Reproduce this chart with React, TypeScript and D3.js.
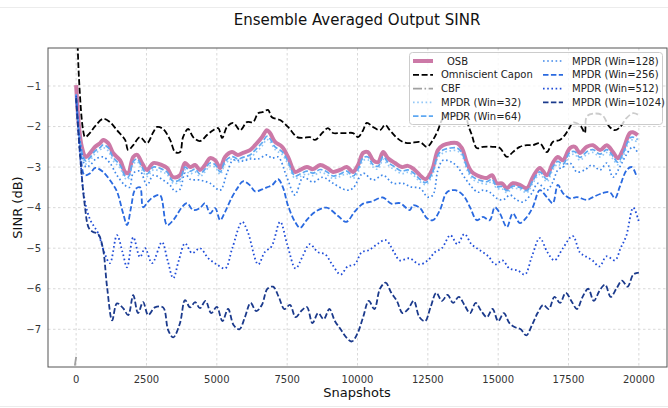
import React from "react";
import * as d3 from "d3";

type Pt = [number, number];

// Snapshot index vs. ensemble-averaged output SINR (dB)
const osb: Pt[] = [[0,-0.98],[200,-2.5],[350,-2.75],[500,-2.65],[675,-2.5],[850,-2.41],[960,-2.33],[1140,-2.41],[1310,-2.65],[1560,-2.83],[1740,-3.12],[1850,-3.15],[2030,-2.75],[2170,-2.7],[2340,-2.9],[2520,-3.07],[2740,-2.9],[3050,-2.95],[3230,-3.02],[3450,-3.25],[3690,-3.2],[3870,-2.9],[4050,-3.0],[4230,-2.95],[4400,-3.07],[4580,-2.95],[4760,-2.78],[4940,-2.83],[5120,-3.02],[5290,-2.75],[5540,-2.63],[5750,-2.7],[5930,-2.65],[6180,-2.58],[6360,-2.46],[6610,-2.26],[6780,-2.09],[6890,-2.16],[7070,-2.38],[7320,-2.5],[7530,-2.75],[7780,-3.12],[7960,-3.07],[8200,-3.0],[8420,-3.05],[8670,-2.95],[8920,-3.02],[9130,-3.12],[9380,-3.07],[9620,-3.0],[9840,-3.12],[10020,-2.95],[10200,-2.65],[10370,-2.63],[10550,-2.83],[10730,-2.88],[10910,-2.63],[11080,-2.78],[11330,-2.9],[11580,-3.0],[11790,-2.97],[12000,-3.05],[12220,-3.2],[12420,-3.3],[12650,-3.07],[12860,-2.58],[13040,-2.46],[13290,-2.41],[13540,-2.41],[13710,-2.53],[13890,-2.9],[14060,-3.12],[14240,-3.2],[14420,-3.25],[14600,-3.27],[14780,-3.2],[14950,-3.4],[15130,-3.4],[15310,-3.52],[15520,-3.4],[15770,-3.44],[16020,-3.52],[16230,-3.25],[16480,-3.02],[16730,-3.2],[16940,-2.9],[17120,-2.75],[17300,-2.83],[17550,-2.53],[17730,-2.5],[17900,-2.65],[18150,-2.5],[18370,-2.46],[18620,-2.58],[18860,-2.46],[19080,-2.63],[19250,-2.78],[19430,-2.58],[19680,-2.16],[19790,-2.14],[19960,-2.21]];

const capon: Pt[] = [[0,1.5],[100,-0.8],[250,-2.1],[320,-2.26],[500,-2.15],[675,-1.99],[960,-1.81],[1200,-1.89],[1450,-2.09],[1740,-2.33],[1850,-2.58],[2030,-2.46],[2270,-2.26],[2520,-2.41],[2740,-2.14],[2880,-2.01],[3090,-2.06],[3340,-2.33],[3520,-2.63],[3690,-2.63],[3800,-2.26],[3980,-2.06],[4160,-2.26],[4400,-2.36],[4650,-2.21],[4870,-2.09],[5050,-2.04],[5190,-2.28],[5360,-2.01],[5580,-1.91],[5830,-2.09],[6070,-1.89],[6290,-1.89],[6470,-1.67],[6650,-1.64],[6820,-1.59],[6960,-1.77],[7250,-1.84],[7530,-2.01],[7850,-2.26],[8070,-2.28],[8310,-2.26],[8490,-2.33],[8770,-2.14],[8950,-2.04],[9130,-2.16],[9380,-2.16],[9620,-2.16],[9840,-2.16],[10020,-2.26],[10200,-2.09],[10330,-1.91],[10550,-2.01],[10800,-2.09],[10980,-1.96],[11150,-2.09],[11400,-2.28],[11620,-2.38],[11860,-2.41],[12220,-2.38],[12470,-2.5],[12680,-2.33],[12860,-2.09],[13000,-1.84],[13200,-1.69],[13450,-1.74],[13700,-1.72],[13850,-1.77],[13950,-2.0],[14060,-2.2],[14240,-2.53],[14460,-2.5],[14810,-2.5],[15060,-2.53],[15310,-2.75],[15520,-2.63],[15770,-2.5],[16020,-2.46],[16230,-2.46],[16480,-2.41],[16730,-2.63],[16940,-2.38],[17190,-2.33],[17370,-2.21],[17550,-2.01],[17650,-1.9],[17800,-1.92],[17950,-2.0],[18080,-2.16],[18150,-1.75],[18400,-1.68],[18700,-1.72],[18950,-2.0],[19150,-2.09],[19350,-2.0],[19550,-1.8],[19800,-1.67],[20000,-1.72]];

const cbf: Pt[] = [[0,-7.68],[50,-40],[20000,-40]];

const mpdr32: Pt[] = [[0,-1.28],[200,-2.7],[350,-2.92],[500,-2.83],[675,-2.67],[850,-2.58],[960,-2.52],[1140,-2.6],[1310,-2.84],[1560,-3.02],[1740,-3.28],[1850,-3.3],[2030,-2.93],[2170,-2.87],[2340,-3.07],[2520,-3.23],[2740,-3.07],[3050,-3.12],[3230,-3.18],[3450,-3.4],[3690,-3.36],[3870,-3.07],[4050,-3.17],[4230,-3.12],[4400,-3.23],[4580,-3.12],[4760,-2.97],[4940,-3.0],[5120,-3.18],[5290,-2.93],[5540,-2.8],[5750,-2.87],[5930,-2.83],[6180,-2.77],[6360,-2.66],[6610,-2.48],[6780,-2.32],[6890,-2.37],[7070,-2.57],[7320,-2.69],[7530,-2.93],[7780,-3.28],[7960,-3.23],[8200,-3.17],[8420,-3.21],[8670,-3.13],[8920,-3.19],[9130,-3.28],[9380,-3.23],[9620,-3.17],[9840,-3.28],[10020,-3.12],[10200,-2.84],[10370,-2.82],[10550,-3.0],[10730,-3.05],[10910,-2.81],[11080,-2.95],[11330,-3.07],[11580,-3.16],[11790,-3.13],[12000,-3.21],[12220,-3.36],[12420,-3.43],[12650,-3.22],[12860,-2.77],[13040,-2.65],[13290,-2.6],[13540,-2.6],[13710,-2.71],[13890,-3.07],[14060,-3.28],[14240,-3.36],[14420,-3.4],[14600,-3.42],[14780,-3.36],[14950,-3.53],[15130,-3.53],[15310,-3.63],[15520,-3.52],[15770,-3.55],[16020,-3.63],[16230,-3.4],[16480,-3.18],[16730,-3.36],[16940,-3.07],[17120,-2.93],[17300,-3.0],[17550,-2.71],[17730,-2.69],[17900,-2.83],[18150,-2.69],[18370,-2.64],[18620,-2.75],[18860,-2.64],[19080,-2.8],[19250,-2.94],[19430,-2.75],[19680,-2.35],[19790,-2.33],[19960,-2.39]];

const mpdr64: Pt[] = [[0,-1.2],[200,-2.62],[350,-2.85],[500,-2.76],[675,-2.6],[850,-2.52],[960,-2.45],[1140,-2.52],[1310,-2.76],[1560,-2.95],[1740,-3.22],[1850,-3.25],[2030,-2.86],[2170,-2.8],[2340,-3.0],[2520,-3.17],[2740,-3.0],[3050,-3.05],[3230,-3.12],[3450,-3.35],[3690,-3.3],[3870,-3.0],[4050,-3.1],[4230,-3.05],[4400,-3.17],[4580,-3.05],[4760,-2.9],[4940,-2.94],[5120,-3.12],[5290,-2.86],[5540,-2.74],[5750,-2.8],[5930,-2.76],[6180,-2.7],[6360,-2.58],[6610,-2.4],[6780,-2.24],[6890,-2.3],[7070,-2.5],[7320,-2.62],[7530,-2.86],[7780,-3.22],[7960,-3.17],[8200,-3.1],[8420,-3.15],[8670,-3.06],[8920,-3.12],[9130,-3.22],[9380,-3.17],[9620,-3.1],[9840,-3.22],[10020,-3.05],[10200,-2.77],[10370,-2.75],[10550,-2.94],[10730,-2.98],[10910,-2.74],[11080,-2.88],[11330,-3.0],[11580,-3.1],[11790,-3.07],[12000,-3.15],[12220,-3.3],[12420,-3.38],[12650,-3.16],[12860,-2.7],[13040,-2.58],[13290,-2.53],[13540,-2.53],[13710,-2.64],[13890,-3.0],[14060,-3.22],[14240,-3.3],[14420,-3.34],[14600,-3.36],[14780,-3.3],[14950,-3.48],[15130,-3.48],[15310,-3.58],[15520,-3.47],[15770,-3.5],[16020,-3.58],[16230,-3.34],[16480,-3.12],[16730,-3.3],[16940,-3.0],[17120,-2.86],[17300,-2.93],[17550,-2.64],[17730,-2.62],[17900,-2.76],[18150,-2.62],[18370,-2.57],[18620,-2.68],[18860,-2.57],[19080,-2.73],[19250,-2.88],[19430,-2.68],[19680,-2.28],[19790,-2.26],[19960,-2.32]];

const mpdr128: Pt[] = [[0,-1.22],[150,-2.4],[350,-3.0],[500,-2.95],[700,-2.8],[960,-2.75],[1200,-2.9],[1450,-3.2],[1740,-3.45],[1900,-3.5],[2030,-3.15],[2270,-3.1],[2520,-3.45],[2740,-3.2],[3050,-3.3],[3340,-3.45],[3520,-3.6],[3690,-3.55],[3870,-3.15],[4050,-3.3],[4400,-3.32],[4760,-3.4],[5120,-3.57],[5360,-3.15],[5580,-2.83],[5930,-2.85],[6180,-2.8],[6470,-2.8],[6780,-2.7],[6960,-2.78],[7180,-2.75],[7490,-3.25],[7780,-3.69],[8070,-3.25],[8420,-3.37],[8770,-3.25],[9130,-3.4],[9620,-3.57],[9840,-3.52],[10200,-3.15],[10550,-3.32],[10910,-3.2],[11260,-3.4],[11620,-3.4],[11900,-3.49],[12220,-3.52],[12500,-3.74],[12680,-3.69],[12860,-3.07],[13040,-2.83],[13350,-2.88],[13560,-3.0],[13800,-3.25],[14060,-3.49],[14280,-3.62],[14460,-3.57],[14700,-3.62],[14950,-3.77],[15170,-3.81],[15420,-3.69],[15660,-3.81],[15880,-3.86],[16200,-3.64],[16410,-3.4],[16730,-3.57],[16940,-3.37],[17120,-3.07],[17300,-3.0],[17550,-2.9],[17800,-3.12],[18080,-3.07],[18330,-2.95],[18620,-3.07],[18860,-2.9],[19080,-3.25],[19320,-3.0],[19550,-2.7],[19790,-2.5],[19960,-2.65]];

const mpdr256: Pt[] = [[0,-1.3],[150,-2.6],[300,-3.2],[500,-3.15],[675,-3.02],[960,-3.12],[1280,-3.4],[1450,-3.6],[1670,-4.14],[1810,-4.43],[1950,-4.0],[2100,-3.55],[2270,-3.5],[2380,-3.99],[2560,-3.85],[2740,-3.74],[2980,-3.69],[3230,-4.43],[3450,-4.31],[3760,-3.99],[3940,-3.89],[4160,-4.06],[4400,-4.01],[4580,-3.89],[4760,-4.14],[4940,-4.01],[5120,-4.31],[5290,-4.11],[5540,-3.74],[5750,-3.5],[5930,-3.35],[6180,-3.45],[6360,-3.6],[6610,-3.55],[6780,-3.5],[6960,-3.45],[7180,-3.3],[7350,-3.5],[7530,-3.95],[7780,-4.35],[7960,-4.5],[8200,-4.3],[8500,-4.1],[8900,-4.0],[9300,-4.2],[9600,-4.35],[9900,-4.1],[10200,-3.9],[10500,-3.85],[10900,-3.75],[11200,-3.9],[11510,-3.89],[11860,-4.06],[11970,-3.94],[12220,-4.01],[12470,-4.26],[12680,-4.31],[12930,-4.06],[13180,-3.62],[13470,-3.57],[13750,-3.69],[14000,-3.99],[14240,-4.31],[14460,-4.23],[14700,-4.31],[14880,-3.99],[15060,-4.14],[15310,-4.48],[15520,-4.14],[15770,-4.38],[16020,-4.23],[16230,-3.99],[16480,-3.57],[16730,-3.74],[16940,-3.89],[17120,-3.44],[17300,-3.64],[17550,-3.77],[17800,-3.74],[18150,-3.81],[18370,-3.74],[18720,-3.64],[18970,-3.62],[19150,-3.77],[19320,-3.49],[19570,-3.07],[19750,-3.0],[19930,-3.25]];

const mpdr512: Pt[] = [[0,-1.25],[150,-2.8],[300,-3.8],[500,-4.3],[780,-4.63],[1000,-5.1],[1200,-5.37],[1450,-4.68],[1650,-5.1],[1810,-5.47],[2030,-4.73],[2270,-5.22],[2450,-5.0],[2700,-5.37],[3050,-4.85],[3250,-5.3],[3450,-5.74],[3650,-5.3],[3870,-4.88],[4120,-5.12],[4400,-5.0],[4700,-5.25],[5000,-5.4],[5300,-5.5],[5550,-5.0],[5900,-4.35],[6100,-4.6],[6470,-5.4],[6700,-5.1],[6950,-4.95],[7250,-4.35],[7500,-4.9],[7800,-5.5],[8050,-5.2],[8300,-4.9],[8600,-5.1],[8850,-5.15],[9100,-5.4],[9400,-5.65],[9650,-5.45],[9900,-5.4],[10150,-5.1],[10400,-5.05],[10700,-4.9],[11000,-4.8],[11300,-5.1],[11500,-5.3],[11850,-5.25],[12200,-5.4],[12500,-5.3],[12750,-5.1],[13000,-5.0],[13300,-4.68],[13550,-4.9],[13800,-4.65],[14050,-4.9],[14350,-5.05],[14650,-5.2],[14900,-5.4],[15150,-5.3],[15400,-5.5],[15700,-5.55],[15950,-5.65],[16200,-5.2],[16480,-4.75],[16750,-5.1],[17000,-5.3],[17300,-5.0],[17650,-4.7],[17900,-5.1],[18100,-5.2],[18350,-5.3],[18600,-5.45],[18850,-5.2],[19150,-5.3],[19350,-5.0],[19550,-4.7],[19800,-4.0],[20000,-4.35]];

const mpdr1024: Pt[] = [[0,-1.3],[150,-2.8],[300,-3.9],[450,-4.5],[600,-4.6],[780,-4.65],[950,-5.0],[1100,-5.96],[1280,-6.78],[1450,-6.36],[1670,-6.48],[1850,-6.65],[2030,-6.16],[2200,-6.6],[2380,-6.33],[2560,-6.65],[2800,-6.46],[3090,-6.46],[3270,-7.02],[3450,-7.2],[3690,-6.85],[3870,-6.28],[4050,-6.46],[4230,-6.33],[4400,-6.48],[4600,-6.3],[4800,-6.6],[5000,-6.45],[5200,-6.8],[5400,-6.5],[5600,-6.9],[5800,-7.0],[6000,-6.7],[6200,-6.35],[6400,-6.55],[6600,-6.4],[6800,-6.0],[7000,-5.95],[7200,-6.2],[7400,-6.5],[7600,-6.4],[7800,-6.7],[8000,-6.55],[8200,-6.45],[8400,-6.85],[8600,-6.6],[8800,-6.75],[9000,-6.5],[9200,-6.8],[9400,-7.0],[9600,-7.2],[9800,-7.3],[10000,-7.1],[10200,-6.7],[10400,-6.3],[10600,-6.5],[10800,-6.0],[11000,-5.85],[11200,-6.1],[11400,-6.3],[11600,-6.6],[11800,-6.5],[12000,-6.3],[12200,-6.7],[12400,-6.8],[12600,-6.45],[12800,-6.1],[13000,-6.3],[13200,-6.15],[13400,-6.35],[13600,-6.2],[13800,-6.4],[14000,-6.6],[14200,-6.35],[14400,-6.55],[14600,-6.7],[14800,-6.5],[15000,-6.8],[15200,-6.6],[15400,-6.85],[15600,-6.95],[15800,-7.0],[16000,-7.15],[16200,-6.9],[16400,-6.6],[16600,-6.4],[16800,-6.5],[17000,-6.2],[17200,-6.35],[17400,-6.1],[17600,-6.3],[17800,-6.5],[18000,-6.2],[18200,-6.0],[18400,-6.3],[18600,-6.05],[18800,-5.9],[19000,-6.2],[19200,-6.0],[19400,-5.8],[19600,-5.95],[19800,-5.65],[20000,-5.6]];

const xTicks = [0, 2500, 5000, 7500, 10000, 12500, 15000, 17500, 20000];
const yTicks = [-7, -6, -5, -4, -3, -2, -1];

const seriesNames = ["OSB", "Omniscient Capon", "CBF", "MPDR (Win=32)", "MPDR (Win=64)", "MPDR (Win=128)", "MPDR (Win=256)", "MPDR (Win=512)", "MPDR (Win=1024)"];
const seriesData = [osb, capon, cbf, mpdr32, mpdr64, mpdr128, mpdr256, mpdr512, mpdr1024];
const seriesColors = ["#cc79a7", "#000000", "#a0a0a0", "#93c8f7", "#5ea8f2", "#3f88ea", "#2a6ae0", "#1f4cd8", "#1b3a8c"];
const seriesWidths = [4, 1.8, 1.8, 1.7, 1.7, 1.7, 1.8, 1.8, 1.8];
const seriesDash = ["", "6,2.6", "9,2.5,1.6,2.5", "1.6,2.6", "5.5,2.4", "1.6,2.6", "5.5,2.4", "1.6,2.6", "5.5,2.4"];

const W = 668;
const H = 408;
const left = 48, right = 667, top = 48, bottom = 367;

const fmt = (v: number) => (v < 0 ? "\u2212" + Math.abs(v) : String(v));

export default function App() {
  const x = d3.scaleLinear().domain([-1000, 21000]).range([left, right]);
  const y = d3.scaleLinear().domain([-7.93, -0.063]).range([bottom, top]);
  const line = d3
    .line<Pt>()
    .x((d) => x(d[0]))
    .y((d) => y(d[1]))
    .curve(d3.curveCatmullRom.alpha(0.5));

  const font = "DejaVu Sans, Verdana, sans-serif";
  const legRows1 = [0, 1, 2, 3, 4];
  const legRows2 = [5, 6, 7, 8];
  const rowY = (i: number) => 61 + i * 13.8;

  const legendHandle = (i: number, x0: number, yy: number) => (
    <line
      key={"h" + i}
      x1={x0}
      x2={x0 + 20}
      y1={yy}
      y2={yy}
      stroke={seriesColors[i]}
      strokeWidth={seriesWidths[i]}
      strokeDasharray={seriesDash[i] || undefined}
    />
  );

  return (
    <svg
      width={W}
      height={H}
      style={{ position: "fixed", left: 0, top: 0, background: "#fff" }}
      fontFamily={font}
    >
      <rect x={0} y={0} width={W} height={H} fill="#fff" />
      <line x1={0} x2={W} y1={7.5} y2={7.5} stroke="#ececec" />
      <line x1={0} x2={W} y1={406.5} y2={406.5} stroke="#ececec" />
      <defs>
        <clipPath id="plotClip">
          <rect x={left} y={top} width={right - left} height={bottom - top} />
        </clipPath>
      </defs>

      <text x={357} y={25} textAnchor="middle" fontSize={15} fill="#111">
        Ensemble Averaged Output SINR
      </text>

      {/* grid */}
      <g stroke="#cfcfcf" strokeWidth={0.8} strokeDasharray="2.5,2.5">
        {xTicks.map((t) => (
          <line key={"gx" + t} x1={x(t)} x2={x(t)} y1={top} y2={bottom} />
        ))}
        {yTicks.map((t) => (
          <line key={"gy" + t} x1={left} x2={right} y1={y(t)} y2={y(t)} />
        ))}
      </g>

      {/* series */}
      <g clipPath="url(#plotClip)" fill="none" strokeLinejoin="round">
        {seriesData.map((d, i) => (
          <path
            key={seriesNames[i]}
            d={line(d) || ""}
            stroke={seriesColors[i]}
            strokeWidth={seriesWidths[i]}
            strokeDasharray={seriesDash[i] || undefined}
          />
        ))}
      </g>

      {/* frame */}
      <rect x={left} y={top} width={right - left} height={bottom - top} fill="none" stroke="#555" strokeWidth={1} />

      {/* ticks */}
      <g fontSize={10} fill="#333">
        {xTicks.map((t) => (
          <text key={"tx" + t} x={x(t)} y={383} textAnchor="middle">
            {fmt(t)}
          </text>
        ))}
        {yTicks.map((t) => (
          <text key={"ty" + t} x={41} y={y(t) + 3.6} textAnchor="end">
            {fmt(t)}
          </text>
        ))}
      </g>

      <text x={357} y={397} textAnchor="middle" fontSize={13} fill="#111">
        Snapshots
      </text>
      <text
        transform={`translate(22,${(top + bottom) / 2}) rotate(-90)`}
        textAnchor="middle"
        fontSize={13}
        fill="#111"
      >
        SINR (dB)
      </text>

      {/* legend */}
      <rect x={409.5} y={52.5} width={253} height={72} rx={3} fill="#fff" fillOpacity={0.8} stroke="#cccccc" />
      <g fontSize={10} fill="#222">
        {legRows1.map((i, r) => (
          <g key={"l1" + i}>
            {legendHandle(i, 413, rowY(r))}
            <text x={i === 0 ? 447 : 441} y={rowY(r) + 3.6}>
              {seriesNames[i]}
            </text>
          </g>
        ))}
        {legRows2.map((i, r) => (
          <g key={"l2" + i}>
            {legendHandle(i, 543, rowY(r))}
            <text x={572} y={rowY(r) + 3.6}>
              {seriesNames[i]}
            </text>
          </g>
        ))}
      </g>
    </svg>
  );
}
